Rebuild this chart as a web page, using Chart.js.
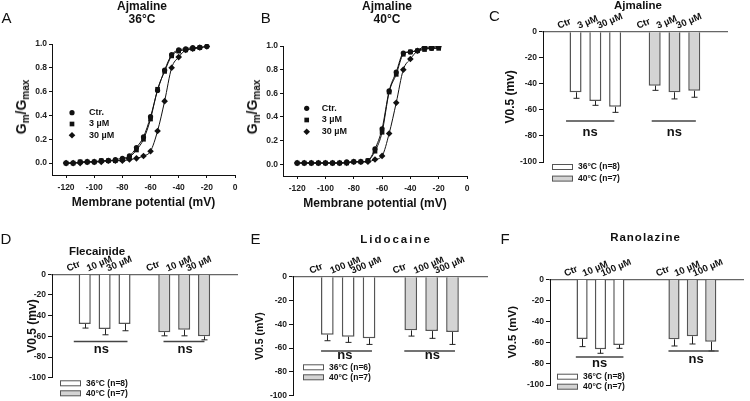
<!DOCTYPE html>
<html>
<head>
<meta charset="utf-8">
<script src="https://cdn.jsdelivr.net/npm/chart.js@4.4.0/dist/chart.umd.min.js"></script>
<style>
  html, body { margin: 0; padding: 0; background: #fff; }
  #page { position: relative; width: 750px; height: 401px; overflow: hidden;
          font-family: "Liberation Sans", Arial, sans-serif; color: #111; }
  #page canvas { position: absolute; left: 0; top: 0; }
  .letter { position: absolute; font-size: 15px; line-height: 15px; }
  .title { position: absolute; font-weight: bold; font-size: 12px; line-height: 12.5px;
           text-align: center; white-space: nowrap; transform: translateX(-50%); }
  .ytitle { position: absolute; font-weight: bold; font-size: 14px; line-height: 16px; white-space: nowrap;
            transform: translate(-50%, -50%) rotate(-90deg); }
  .ytitle sub { font-size: 10px; vertical-align: -3px; line-height: 0; }
</style>
</head>
<body>
<div id="page">
  <canvas id="chartA" width="750" height="401"></canvas>
  <canvas id="chartB" width="750" height="401"></canvas>
  <canvas id="chartC" width="750" height="401"></canvas>
  <canvas id="chartD" width="750" height="401"></canvas>
  <canvas id="chartE" width="750" height="401"></canvas>
  <canvas id="chartF" width="750" height="401"></canvas>

  <div class="letter" style="left:1.5px;top:9.7px">A</div>
  <div class="letter" style="left:260.7px;top:9.7px">B</div>
  <div class="letter" style="left:489px;top:8px">C</div>
  <div class="letter" style="left:0.6px;top:230.7px">D</div>
  <div class="letter" style="left:250.6px;top:231.4px">E</div>
  <div class="letter" style="left:500.6px;top:230.7px">F</div>

  <div class="title" style="left:142px;top:0px">Ajmaline<br>36°C</div>
  <div class="title" style="left:387px;top:0px">Ajmaline<br>40°C</div>
  <div class="title" style="left:638px;top:-1px;font-size:11.5px">Ajmaline</div>
  <div class="title" style="left:97px;top:244.7px;font-size:11.5px">Flecainide</div>
  <div class="title" style="left:396px;top:233px;font-size:11.5px;letter-spacing:2px">Lidocaine</div>
  <div class="title" style="left:645.5px;top:230.7px;font-size:11.5px;letter-spacing:1px">Ranolazine</div>

  <div class="ytitle" style="left:21px;top:107px">G<sub>m</sub>/G<sub>max</sub></div>
  <div class="ytitle" style="left:252px;top:107px">G<sub>m</sub>/G<sub>max</sub></div>
</div>

<script>
// ---- Gm/Gmax curves (A, B) ----
const voltages = [-120, -115, -110, -105, -100, -95, -90, -85, -80, -75, -70,
                  -65, -60, -55, -50, -45, -40, -35, -30, -25, -20];
const aCtr = [0.00, 0.00, 0.01, 0.01, 0.01, 0.02, 0.02, 0.03, 0.04, 0.06, 0.13,
              0.22, 0.39, 0.61, 0.78, 0.91, 0.95, 0.96, 0.97, 0.97, 0.98];
const a3 =   [0.00, 0.00, 0.01, 0.01, 0.01, 0.02, 0.02, 0.02, 0.03, 0.05, 0.11,
              0.20, 0.37, 0.62, 0.77, 0.90, 0.94, 0.95, 0.96, 0.97, null];
const a30 =  [0.00, 0.00, 0.00, 0.01, 0.01, 0.01, 0.02, 0.02, 0.02, 0.03, 0.04,
              0.06, 0.10, 0.27, 0.52, 0.80, 0.89, 0.95, 0.96, 0.97, 0.98];
const bCtr = [0.01, 0.01, 0.01, 0.01, 0.01, 0.01, 0.01, 0.02, 0.02, 0.02, 0.03,
              0.13, 0.30, 0.62, 0.78, 0.94, 0.95, 0.96, 0.98, 0.98, 0.99];
const b3 =   [0.01, 0.01, 0.01, 0.01, 0.01, 0.01, 0.01, 0.01, 0.02, 0.02, 0.03,
              0.11, 0.27, 0.61, 0.76, 0.93, 0.95, 0.96, 0.97, 0.98, 0.98];
const b30 =  [0.01, 0.01, 0.01, 0.01, 0.01, 0.01, 0.01, 0.01, 0.02, 0.02, 0.02,
              0.04, 0.07, 0.26, 0.52, 0.80, 0.89, 0.96, 0.99, 0.99, 1.00];
const gSeries = ["Ctr.", "3 µM", "30 µM"];
const gMarkers = ["circle", "rect", "rectRot"];
const gXTicks = [-120, -100, -80, -60, -40, -20, 0];
const gYTicks = [0, 0.2, 0.4, 0.6, 0.8, 1.0];

// ---- V0.5 bars (C-F) ----
const barYTicks = [0, -20, -40, -60, -80, -100];

const cLabels = ["Ctr", "3 µM", "30 µM"];
const cPos36 = [0, 1, 2], cPos40 = [4, 5, 6];
const cMean36 = [-46.5, -53.2, -57.6], cErr36 = [4.6, 3.3, 4.3];
const cMean40 = [-41.4, -46.5, -45.3], cErr40 = [3.6, 5.1, 5.0];
const cKey = ["36°C (n=8)", "40°C (n=7)"];
// [x0, x1, lineY, textX, textY]
const cNs = [[-0.48, 1.96, -68.5, 0.74, -77.4], [3.85, 6.08, -68.5, 4.99, -77.4]];

const dLabels = ["Ctr", "10 µM", "30 µM"];
const dPos36 = [0, 1, 2], dPos40 = [4, 5, 6];
const dMean36 = [-48, -53, -48], dErr36 = [4, 5.5, 6.6];
const dMean40 = [-56, -53.7, -60], dErr40 = [3.5, 5.8, 3.4];
const dKey = ["36°C (n=8)", "40°C (n=7)"];
const dNs = [[-0.55, 2.15, -65, 0.84, -73.2], [3.96, 6.02, -65, 5.05, -73.2]];

const eLabels = ["Ctr", "100 µM", "300 µM"];
const ePos36 = [0, 1, 2], ePos40 = [4, 5, 6];
const eMean36 = [-48.7, -50.4, -51.8], eErr36 = [5.1, 4.8, 5.1];
const eMean40 = [-45.1, -45.7, -46.5], eErr40 = [4.8, 6.1, 10.4];
const eKey = ["36°C (n=6)", "40°C (n=7)"];
const eNs = [[-0.3, 2.14, -62.4, 0.84, -66.6], [3.69, 6.12, -62.4, 5.04, -66.6]];

const fLabels = ["Ctr", "10 µM", "100 µM"];
const fPos36 = [0, 1, 2], fPos40 = [5, 6, 7];
const fMean36 = [-56.5, -66.2, -62.1], fErr36 = [7.2, 3.8, 3.2];
const fMean40 = [-56.8, -53.9, -59], fErr40 = [6.3, 7.3, 8.8];
const fKey = ["36°C (n=8)", "40°C (n=7)"];
const fNs = [[-0.34, 2.25, -73.5, 0.95, -79.4], [4.7, 7.43, -67.8, 6.2, -75.6]];

Chart.defaults.font.family = '"Liberation Sans", Arial, sans-serif';
Chart.defaults.font.weight = "bold";
Chart.defaults.color = "#222";
Chart.defaults.animation = false;
Chart.defaults.events = [];

const FONT = '"Liberation Sans", Arial, sans-serif';

// marker drawn the same way for the key of panels A and B
function drawMarker(ctx, style, r, x, y) {
  ctx.beginPath();
  if (style === "circle") {
    ctx.arc(x, y, r, 0, Math.PI * 2);
  } else if (style === "rect") {
    const s = r * Math.SQRT1_2;
    ctx.rect(x - s, y - s, 2 * s, 2 * s);
  } else {
    ctx.moveTo(x, y - r); ctx.lineTo(x + r, y); ctx.lineTo(x, y + r); ctx.lineTo(x - r, y);
    ctx.closePath();
  }
  ctx.fill();
}

const curveKey = {
  id: "curveKey",
  afterDraw(chart, args, opts) {
    const { ctx, chartArea } = chart;
    ctx.save();
    ctx.fillStyle = "#111";
    ctx.font = "bold 9px " + FONT;
    ctx.textBaseline = "middle";
    chart.data.datasets.forEach((ds, i) => {
      const y = chartArea.top + opts.dy + i * opts.gap;
      drawMarker(ctx, ds.pointStyle, ds.pointRadius, chartArea.left + opts.dx, y);
      ctx.fillText(ds.label, chartArea.left + opts.tx, y);
    });
    ctx.restore();
  }
};

function curveChart(id, area, series, key) {
  const datasets = series.map((vals, i) => ({
    label: gSeries[i],
    data: voltages.map((v, j) => ({ x: v, y: vals[j] })).filter(p => p.y !== null),
    showLine: true,
    cubicInterpolationMode: "monotone",
    borderColor: "#111",
    borderWidth: 1,
    backgroundColor: "#111",
    pointBackgroundColor: "#111",
    pointBorderWidth: 0,
    pointStyle: gMarkers[i],
    pointRadius: i === 0 ? 2.6 : 3.3
  }));
  return new Chart(document.getElementById(id), {
    type: "scatter",
    data: { datasets: datasets },
    options: {
      responsive: false,
      layout: { padding: { left: area.l - 30, top: area.t, right: 750 - area.r, bottom: 401 - area.b - 35 } },
      plugins: { legend: { display: false }, tooltip: { enabled: false }, curveKey: key },
      scales: {
        x: {
          type: "linear", min: -130, max: 0,
          afterBuildTicks: s => { s.ticks = gXTicks.map(v => ({ value: v })); },
          afterFit: s => { s.height = 35; s.paddingLeft = 0; s.paddingRight = 0; },
          grid: { display: true, drawOnChartArea: false, drawTicks: true, tickLength: 3, color: "#111" },
          border: { color: "#111", width: 1 },
          ticks: { font: { size: 8.5 }, padding: 5, maxRotation: 0, autoSkip: false },
          title: { display: true, text: "Membrane potential (mV)", font: { size: 12 }, color: "#111", padding: 0 }
        },
        y: {
          min: -0.1, max: 1.0,
          afterBuildTicks: s => { s.ticks = gYTicks.map(v => ({ value: v })); },
          afterFit: s => { s.width = 30; s.paddingTop = 0; s.paddingBottom = 0; },
          grid: { display: true, drawOnChartArea: false, drawTicks: true, tickLength: 3, color: "#111" },
          border: { color: "#111", width: 1 },
          ticks: { font: { size: 8.5 }, padding: 2, callback: v => v.toFixed(1) }
        }
      }
    },
    plugins: [curveKey]
  });
}

// error bars, "ns" brackets and the small key of the bar panels
const barExtras = {
  id: "barExtras",
  afterDatasetsDraw(chart, args, opts) {
    const { ctx, chartArea } = chart;
    const xs = chart.scales.x, ys = chart.scales.y;
    ctx.save();
    ctx.strokeStyle = "#222";
    ctx.lineWidth = 1;
    chart.data.datasets.forEach((ds, di) => {
      chart.getDatasetMeta(di).data.forEach((bar, i) => {
        const yEnd = ys.getPixelForValue(ds.data[i].y - ds.errors[i]);
        const x = Math.round(bar.x) + 0.5;
        ctx.beginPath();
        ctx.moveTo(x, bar.y);
        ctx.lineTo(x, yEnd);
        ctx.moveTo(x - 3, yEnd);
        ctx.lineTo(x + 3, yEnd);
        ctx.stroke();
      });
    });

    ctx.strokeStyle = "#444";
    ctx.lineWidth = 1.4;
    ctx.fillStyle = "#111";
    ctx.font = "bold 13px " + FONT;
    ctx.textAlign = "center";
    ctx.textBaseline = "alphabetic";
    opts.ns.forEach(n => {
      const y = ys.getPixelForValue(n[2]);
      ctx.beginPath();
      ctx.moveTo(xs.getPixelForValue(n[0]), y);
      ctx.lineTo(xs.getPixelForValue(n[1]), y);
      ctx.stroke();
      ctx.fillText("ns", xs.getPixelForValue(n[3]), ys.getPixelForValue(n[4]) + 3.5);
    });

    ctx.font = "bold 8.5px " + FONT;
    ctx.textAlign = "left";
    ctx.textBaseline = "middle";
    ctx.lineWidth = 1;
    chart.data.datasets.forEach((ds, i) => {
      const bx = chartArea.left + opts.key.dx;
      const by = chartArea.bottom + opts.key.dy + i * opts.key.gap;
      ctx.fillStyle = ds.backgroundColor;
      ctx.fillRect(bx, by - 2.5, 21, 5);
      ctx.strokeStyle = "#555";
      ctx.strokeRect(bx + 0.5, by - 2.5, 20, 5);
      ctx.fillStyle = "#111";
      ctx.fillText(ds.label, bx + 26, by);
    });
    ctx.restore();
  }
};

function barChart(id, area, titleLeft, yTitle, titleSize, labels, pos36, pos40,
                  mean36, err36, mean40, err40, keyLabels, ns, key) {
  const allPos = pos36.concat(pos40);
  const labelFor = v => {
    const i = pos36.indexOf(v);
    if (i >= 0) return labels[i];
    const j = pos40.indexOf(v);
    return j >= 0 ? labels[j] : "";
  };
  const common = { borderColor: "#555", borderWidth: 1.5, grouped: false, barPercentage: 0.76, categoryPercentage: 0.8 };
  return new Chart(document.getElementById(id), {
    type: "bar",
    data: {
      datasets: [
        Object.assign({ label: keyLabels[0], data: pos36.map((x, i) => ({ x: x, y: mean36[i] })),
                        backgroundColor: "#ffffff", errors: err36 }, common),
        Object.assign({ label: keyLabels[1], data: pos40.map((x, i) => ({ x: x, y: mean40[i] })),
                        backgroundColor: "#d4d4d4", errors: err40 }, common)
      ]
    },
    options: {
      responsive: false,
      layout: { padding: { left: titleLeft, top: area.t - 20, right: 750 - area.r, bottom: 401 - area.b } },
      plugins: { legend: { display: false }, tooltip: { enabled: false }, barExtras: { ns: ns, key: key } },
      scales: {
        x: {
          type: "linear", position: "top",
          min: -0.87, max: allPos[allPos.length - 1] + 0.88,
          afterBuildTicks: s => { s.ticks = allPos.map(v => ({ value: v })); },
          afterFit: s => { s.height = 20; s.paddingLeft = 0; s.paddingRight = 0; },
          grid: { display: false, drawTicks: false },
          border: { display: true, color: "#666", width: 1.3 },
          ticks: { autoSkip: false, minRotation: 23, maxRotation: 23, padding: 0, labelOffset: -13,
                   font: { size: 9.5 }, color: "#111", callback: v => labelFor(v) }
        },
        y: {
          min: -100, max: 0,
          afterBuildTicks: s => { s.ticks = barYTicks.map(v => ({ value: v })); },
          afterFit: s => { s.width = area.l - titleLeft; s.paddingTop = 0; s.paddingBottom = 0; },
          grid: { display: true, drawOnChartArea: false, drawTicks: true, tickLength: 4, color: "#111" },
          border: { color: "#111", width: 1 },
          ticks: { font: { size: 8.5 }, padding: 2 },
          title: { display: true, text: yTitle, font: { size: titleSize }, color: "#111", padding: 0 }
        }
      }
    },
    plugins: [barExtras]
  });
}

curveChart("chartA", { l: 52, r: 235, t: 44, b: 175 }, [aCtr, a3, a30], { dx: 20, tx: 37, dy: 68.7, gap: 11.3 });
curveChart("chartB", { l: 283, r: 467, t: 46, b: 176 }, [bCtr, b3, b30], { dx: 23.7, tx: 38.7, dy: 62.3, gap: 11.7 });

barChart("chartC", { l: 543, r: 727, t: 31.7, b: 162 }, 503.8, "V0.5 (mv)", 12, cLabels, cPos36, cPos40,
         cMean36, cErr36, cMean40, cErr40, cKey, cNs, { dx: 9, dy: 5, gap: 11.6 });
barChart("chartD", { l: 52, r: 237, t: 274.3, b: 377.7 }, 25.8, "V0.5 (mv)", 12, dLabels, dPos36, dPos40,
         dMean36, dErr36, dMean40, dErr40, dKey, dNs, { dx: 8, dy: 5.6, gap: 10 });
barChart("chartE", { l: 293, r: 487, t: 276.7, b: 395.7 }, 253.7, "V0.5 (mV)", 10.5, eLabels, ePos36, ePos40,
         eMean36, eErr36, eMean40, eErr40, eKey, eNs, { dx: 10, dy: -28.4, gap: 10 });
barChart("chartF", { l: 550, r: 743, t: 279.3, b: 385 }, 506.1, "V0.5 (mV)", 11.5, fLabels, fPos36, fPos40,
         fMean36, fErr36, fMean40, fErr40, fKey, fNs, { dx: 7, dy: -8.3, gap: 10 });
</script>
</body>
</html>
